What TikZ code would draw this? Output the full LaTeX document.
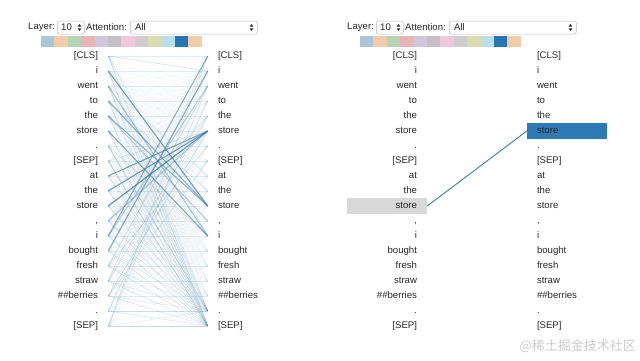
\documentclass[tikz,border=0pt]{standalone}
\usepackage{fontspec}
\setmainfont{Liberation Sans}
\newfontfamily\cjkfont{Noto Sans CJK SC}
\usepackage{tikz}
\usetikzlibrary{positioning,backgrounds}
\newcommand\tokfont{\fontsize{9.6}{11}\selectfont}
\definecolor{attnblue}{RGB}{58,120,160}
\definecolor{linkteal}{RGB}{64,128,150}
\definecolor{selblue}{RGB}{44,123,182}
\definecolor{hlgray}{RGB}{216,216,216}
\definecolor{tokgray}{RGB}{38,38,38}
\definecolor{swa}{RGB}{170,198,216}
\definecolor{swb}{RGB}{242,205,172}
\definecolor{swc}{RGB}{180,214,180}
\definecolor{swd}{RGB}{232,180,182}
\definecolor{swe}{RGB}{208,200,218}
\definecolor{swf}{RGB}{196,192,198}
\definecolor{swg}{RGB}{240,200,220}
\definecolor{swh}{RGB}{206,206,208}
\definecolor{swi}{RGB}{220,220,178}
\definecolor{swj}{RGB}{184,223,230}
\definecolor{swk}{RGB}{40,116,180}
\definecolor{swl}{RGB}{242,203,168}
\tikzset{
	token/.style={text width=60pt, inner xsep=10pt, inner ysep=0pt, minimum height=15pt, text height=7pt, text depth=2pt, font=\tokfont, text=tokgray},
	srctok/.style={token, align=right},
	dsttok/.style={token, align=left},
	label/.style={inner sep=0pt, font=\tokfont, text=tokgray, anchor=west},
	selectbox/.style={draw=gray!55, fill=white, rounded corners=2pt, line width=0.5pt, minimum height=13pt, inner sep=0pt, anchor=west},
	attn/.style={draw=attnblue, line width=0.5pt},
	strong/.style={attn, line width=1.1pt},
	updown/.pic={
		\fill[tokgray] (-1.8,-0.9) -- (1.8,-0.9) -- (0,-3.6) -- cycle;
		\fill[tokgray] (-1.8,0.9) -- (1.8,0.9) -- (0,3.6) -- cycle;
	},
}

\begin{document}
\begin{tikzpicture}[x=1pt,y=-1pt]
			\useasboundingbox (0,0) rectangle (640,360);
			% row layout
			\def\toprow{56}
			\def\rowgap{15}
			
			% controls and colour swatches of both panels
			\foreach \p/\dx in {A/0,B/319}{
				\begin{scope}[xshift=\dx]
					\node (layer\p) [label] at (28,27.5) {Layer:};
					\node (spin\p) [selectbox, minimum width=27pt] at (57,27.5) {};
					\node (spinval\p) [label] at ([xshift=4pt]spin\p.west) {10};
					\pic at ([xshift=-5pt]spin\p.east) {updown};
					\node (att\p) [label] at (86,27.5) {Attention:};
					\node (drop\p) [selectbox, minimum width=127pt] at (130,27.5) {};
					\node (dropval\p) [label] at ([xshift=5pt]drop\p.west) {All};
					\pic at ([xshift=-6pt]drop\p.east) {updown};
					\foreach \c [count=\k from 0] in {swa,swb,swc,swd,swe,swf,swg,swh,swi,swj,swk,swl}
						\fill[\c] ({41+13.4*\k},36) rectangle ++(13.4,11);
				\end{scope}
			}
			
			% token columns
			\foreach \t [count=\i from 0] in {{[CLS]},i,went,to,the,store,.,{[SEP]},at,the,store,{,},i,bought,fresh,straw,\#\#berries,.,{[SEP]}}{
				\node (srcA\i) [srctok] at (68,{\toprow+\rowgap*\i}) {\t};
				\node (dstA\i) [dsttok] at (248,{\toprow+\rowgap*\i}) {\t};
				\node (srcB\i) [srctok] at (387,{\toprow+\rowgap*\i}) {\t};
				\node (dstB\i) [dsttok] at (567,{\toprow+\rowgap*\i}) {\t};
			}
			
			% selected token boxes
			\begin{scope}[on background layer]
				\fill[hlgray] (srcB10.south west) rectangle (srcB10.north east);
				\fill[selblue] (dstB5.south west) rectangle (dstB5.north east);
			\end{scope}
			
			% weak attention, every pair
			\foreach \i in {0,...,18}
				\foreach \j in {0,...,18}
					\draw[attn, opacity=0.045] (srcA\i.east) -- (dstA\j.west);
			% attention to the same row and to the last two tokens
			\foreach \i in {0,...,18}{
				\draw[attn, opacity=0.1] (srcA\i.east) -- (dstA\i.west);
				\draw[attn, opacity=0.13] (srcA\i.east) -- (dstA17.west);
				\draw[attn, opacity=0.16] (srcA\i.east) -- (dstA18.west);
			}
			% medium attention
			\foreach \i/\j/\o in {0/1/.2,0/12/.15,2/8/.15,6/17/.25,7/18/.25,14/2/.25,15/4/.22,16/5/.25,17/3/.2,18/0/.2,15/0/.15,16/7/.18,14/6/.2,6/12/.2,7/5/.2,3/9/.2,11/4/.2,18/2/.15}
				\draw[attn, opacity=\o] (srcA\i.east) -- (dstA\j.west);
			% strong attention
			\foreach \i/\j/\o in {1/10/.7,3/10/.55,4/10/.5,2/12/.4,5/12/.6,4/11/.3,8/5/.65,9/5/.7,10/5/.8,11/5/.35,12/0/.55,13/1/.6,12/2/.3}
				\draw[strong, opacity=\o] (srcA\i.east) -- (dstA\j.west);
			
			% link of the selected token
			\draw[linkteal, line width=0.9pt] (srcB10.east) -- (dstB5.west);
			
			% watermark
			\node (mark) [anchor=east, inner sep=0pt, text=gray!40, font=\cjkfont\fontsize{13}{15}\selectfont] at (636,346) {@稀土掘金技术社区};
			
			\end{tikzpicture}
\end{document}
